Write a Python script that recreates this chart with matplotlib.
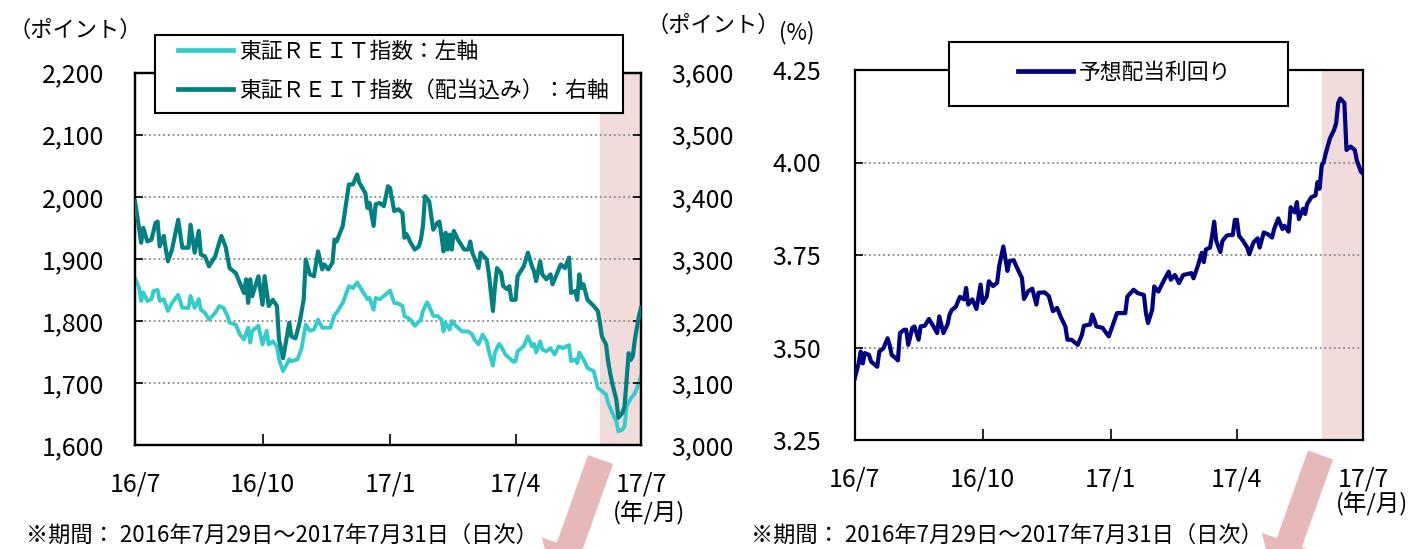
import matplotlib
matplotlib.use("Agg")
import matplotlib.pyplot as plt
from matplotlib.lines import Line2D
from matplotlib.patches import Rectangle, FancyArrow

plt.rcParams['font.family'] = ['Noto Sans CJK JP', 'DejaVu Sans']

# x = trading-day index (0 = 2016/7/29, 246 = 2017/7/31)
tick_pos = [0, 62, 124, 185, 246]
tick_labels = ["16/7", "16/10", "17/1", "17/4", "17/7"]
shade_start, shade_end = 226, 246

# 東証REIT指数 (left axis)
reit_day = [0, 2, 3, 4, 6, 8, 9, 11, 12, 14, 16, 18, 21, 23, 26, 27, 29, 31, 32, 34,
            36, 39, 41, 43, 45, 46, 49, 51, 53, 55, 56, 57, 60, 62, 64, 65, 67, 69, 70, 72,
            75, 76, 79, 81, 83, 85, 87, 89, 91, 95, 97, 98, 101, 104, 106, 108, 110, 113, 114, 116,
            117, 119, 121, 124, 126, 128, 130, 131, 134, 136, 139, 140, 142, 143, 145, 147, 149, 150, 151, 153,
            154, 156, 159, 162, 164, 165, 167, 169, 171, 172, 174, 175, 177, 178, 180, 181, 184, 185, 186, 189,
            191, 193, 194, 195, 197, 198, 200, 202, 204, 206, 208, 211, 212, 214, 215, 216, 218, 220, 223, 225,
            227, 229, 230, 232, 234, 235, 237, 238, 239, 241, 243, 245, 246]
reit_val = [1869, 1853, 1832, 1846, 1832, 1835, 1848, 1850, 1832, 1835, 1816, 1829, 1842, 1821, 1821, 1840, 1821, 1835, 1818, 1813,
            1802, 1813, 1824, 1821, 1808, 1797, 1794, 1778, 1770, 1789, 1765, 1784, 1792, 1762, 1784, 1762, 1767, 1759, 1738, 1719,
            1738, 1735, 1738, 1756, 1794, 1784, 1786, 1802, 1789, 1789, 1810, 1813, 1829, 1856, 1853, 1862, 1851, 1835, 1837, 1818,
            1837, 1835, 1840, 1849, 1829, 1828, 1824, 1808, 1802, 1792, 1802, 1816, 1830, 1824, 1808, 1808, 1802, 1783, 1797, 1786,
            1800, 1792, 1783, 1783, 1778, 1770, 1762, 1778, 1767, 1751, 1728, 1749, 1763, 1759, 1746, 1743, 1734, 1735, 1751, 1759,
            1775, 1759, 1763, 1749, 1767, 1754, 1751, 1756, 1746, 1759, 1756, 1761, 1735, 1738, 1732, 1749, 1738, 1724, 1719, 1692,
            1687, 1681, 1668, 1652, 1638, 1622, 1625, 1630, 1662, 1675, 1683, 1700, 1711]

# 東証REIT指数（配当込み） (right axis)
reit_div_day = [0, 3, 4, 6, 8, 10, 11, 12, 14, 15, 16, 18, 21, 23, 26, 27, 29, 31, 32, 34,
                36, 39, 41, 42, 44, 46, 49, 51, 53, 54, 55, 56, 57, 60, 62, 63, 65, 67, 69, 70,
                72, 75, 76, 78, 80, 82, 83, 85, 87, 89, 91, 92, 94, 96, 97, 98, 101, 104, 106, 108,
                109, 112, 113, 114, 116, 117, 119, 121, 123, 124, 126, 128, 130, 131, 132, 134, 136, 138, 139, 140,
                141, 143, 145, 147, 148, 149, 150, 151, 152, 153, 154, 155, 157, 160, 162, 163, 164, 167, 168, 171,
                172, 174, 175, 176, 178, 179, 181, 182, 183, 185, 186, 189, 191, 193, 194, 195, 197, 198, 200, 202,
                203, 205, 207, 209, 211, 212, 214, 215, 216, 217, 218, 220, 223, 225, 226, 227, 229, 230, 231, 232,
                234, 235, 237, 238, 239, 240, 241, 242, 243, 245, 246]
reit_div_val = [3393, 3326, 3350, 3328, 3331, 3358, 3360, 3320, 3337, 3315, 3296, 3315, 3363, 3318, 3318, 3355, 3310, 3345, 3307, 3304,
                3288, 3304, 3327, 3337, 3320, 3285, 3277, 3261, 3245, 3267, 3229, 3267, 3240, 3272, 3226, 3272, 3224, 3234, 3224, 3170,
                3140, 3197, 3175, 3172, 3197, 3234, 3299, 3275, 3272, 3312, 3283, 3291, 3283, 3294, 3331, 3328, 3353, 3420, 3420, 3436,
                3423, 3406, 3382, 3390, 3353, 3388, 3390, 3385, 3417, 3414, 3377, 3380, 3374, 3334, 3340, 3326, 3315, 3320, 3331, 3353,
                3401, 3393, 3347, 3358, 3360, 3337, 3312, 3342, 3315, 3339, 3315, 3345, 3331, 3315, 3315, 3328, 3310, 3285, 3310, 3299,
                3277, 3216, 3256, 3285, 3277, 3256, 3251, 3256, 3234, 3234, 3272, 3288, 3310, 3288, 3280, 3264, 3296, 3275, 3267, 3275,
                3259, 3275, 3291, 3285, 3302, 3245, 3248, 3234, 3275, 3253, 3259, 3234, 3224, 3216, 3197, 3175, 3162, 3135, 3116, 3100,
                3073, 3044, 3052, 3062, 3105, 3148, 3137, 3143, 3170, 3208, 3221]

# 予想配当利回り (%)
yield_day = [0, 2, 3, 4, 5, 7, 8, 11, 12, 14, 16, 17, 18, 20, 21, 22, 24, 25, 26, 28,
             29, 31, 32, 34, 36, 38, 40, 41, 43, 45, 46, 47, 49, 51, 53, 54, 55, 57, 59, 61,
             62, 64, 65, 67, 69, 70, 72, 74, 75, 77, 79, 81, 82, 84, 86, 88, 89, 92, 94, 96,
             98, 100, 102, 103, 105, 108, 110, 111, 114, 115, 116, 117, 120, 123, 127, 131, 132, 135, 137, 140,
             141, 142, 144, 145, 147, 149, 152, 153, 155, 157, 159, 163, 164, 166, 168, 169, 170, 172, 173, 174,
             175, 177, 178, 180, 181, 183, 184, 185, 186, 188, 190, 191, 193, 195, 196, 198, 200, 202, 203, 205,
             207, 208, 210, 211, 213, 214, 215, 217, 218, 219, 221, 223, 224, 225, 226, 227, 228, 230, 232, 233,
             234, 235, 237, 238, 240, 242, 243, 245, 246]
yield_val = [3.414, 3.457, 3.489, 3.457, 3.485, 3.480, 3.462, 3.448, 3.489, 3.498, 3.525, 3.507, 3.480, 3.471, 3.465, 3.539, 3.548, 3.548, 3.507, 3.553,
             3.557, 3.521, 3.557, 3.559, 3.577, 3.559, 3.539, 3.584, 3.539, 3.562, 3.589, 3.601, 3.610, 3.637, 3.630, 3.661, 3.616, 3.630, 3.604, 3.670,
             3.620, 3.638, 3.679, 3.666, 3.675, 3.720, 3.773, 3.707, 3.734, 3.736, 3.711, 3.688, 3.631, 3.652, 3.659, 3.616, 3.648, 3.649, 3.639, 3.598,
             3.607, 3.580, 3.557, 3.521, 3.521, 3.507, 3.534, 3.559, 3.562, 3.589, 3.575, 3.557, 3.553, 3.530, 3.593, 3.593, 3.638, 3.656, 3.647, 3.642,
             3.593, 3.566, 3.602, 3.665, 3.651, 3.674, 3.705, 3.683, 3.696, 3.674, 3.696, 3.701, 3.687, 3.719, 3.756, 3.731, 3.765, 3.770, 3.802, 3.840,
             3.788, 3.758, 3.788, 3.802, 3.804, 3.804, 3.845, 3.845, 3.802, 3.788, 3.770, 3.752, 3.784, 3.795, 3.770, 3.811, 3.806, 3.797, 3.820, 3.849,
             3.820, 3.829, 3.813, 3.879, 3.865, 3.893, 3.847, 3.875, 3.861, 3.888, 3.906, 3.911, 3.947, 3.929, 3.991, 4.002, 4.025, 4.065, 4.088, 4.106,
             4.161, 4.173, 4.161, 4.034, 4.043, 4.034, 4.006, 3.975, 3.970]

left_ticks = [1600, 1700, 1800, 1900, 2000, 2100, 2200]
right_ticks = [3000, 3100, 3200, 3300, 3400, 3500, 3600]
yield_ticks = [3.25, 3.50, 3.75, 4.00, 4.25]

c_reit = "#33CCCC"
c_div = "#008080"
c_yield = "#000080"
c_shade = "#F2DCDB"
c_arrow = "#E6B9B8"
W, H = 1412, 549
FS = 18


def fx(x):
    return x / W


def fy(y):
    return 1 - y / H


def style_axis(ax):
    for s in ax.spines.values():
        s.set_linewidth(1.6)
        s.set_color("black")
    ax.tick_params(axis="both", direction="in", length=6, width=1.2, labelsize=FS)
    ax.tick_params(axis="x", length=8, pad=19)


fig = plt.figure(figsize=(W / 100, H / 100), dpi=100)

# ---------------- left panel ----------------
ax = fig.add_axes([fx(135), fy(445), fx(641 - 135), fy(72.7) - fy(445)])
ax.axvspan(shade_start, shade_end, color=c_shade, lw=0, zorder=0)
ax.plot(reit_day, reit_val, color=c_reit, lw=2.8, zorder=3)
ax.set_xlim(0, 246)
ax.set_ylim(1600, 2200)
ax.set_yticks(left_ticks)
ax.set_yticklabels([f"{v:,}" for v in left_ticks])
ax.set_xticks(tick_pos)
ax.set_xticklabels(tick_labels)
for v in left_ticks[1:-1]:
    ax.axhline(v, color="#888888", lw=1.3, ls=(0, (1, 1.6)), zorder=1)
style_axis(ax)
ax.tick_params(axis="y", pad=22)

ax2 = ax.twinx()
ax2.plot(reit_div_day, reit_div_val, color=c_div, lw=3.0, zorder=3)
ax2.set_ylim(3000, 3600)
ax2.set_yticks(right_ticks)
ax2.set_yticklabels([f"{v:,}" for v in right_ticks])
style_axis(ax2)
ax2.tick_params(axis="y", pad=22)

# ---------------- right panel ----------------
bx = fig.add_axes([fx(854.5), fy(440), fx(1363 - 854.5), fy(70) - fy(440)])
bx.axvspan(shade_start, shade_end, color=c_shade, lw=0, zorder=0)
bx.plot(yield_day, yield_val, color=c_yield, lw=3.0, zorder=3)
bx.set_xlim(0, 246)
bx.set_ylim(3.25, 4.25)
bx.set_yticks(yield_ticks)
bx.set_yticklabels([f"{v:.2f}" for v in yield_ticks])
bx.set_xticks(tick_pos)
bx.set_xticklabels(tick_labels)
for v in yield_ticks[1:-1]:
    bx.axhline(v, color="#888888", lw=1.3, ls=(0, (1, 1.6)), zorder=1)
style_axis(bx)
bx.tick_params(axis="y", pad=24)

# ---------------- legends ----------------
fig.patches.append(Rectangle((fx(155), fy(113)), fx(623 - 155), fy(35) - fy(113),
                             transform=fig.transFigure, facecolor="white",
                             edgecolor="black", lw=1.5, zorder=2))
fig.legend([Line2D([], [], color=c_reit, lw=3.4), Line2D([], [], color=c_div, lw=3.4)],
           ["東証ＲＥＩＴ指数：左軸", "東証ＲＥＩＴ指数（配当込み）：右軸"],
           loc="center left", bbox_to_anchor=(fx(178), fy(71)), frameon=False,
           fontsize=15.7, handlelength=2.5, handletextpad=0.3, labelspacing=0.78,
           borderpad=0, borderaxespad=0)

fig.patches.append(Rectangle((fx(948.6), fy(106)), fx(1287.7 - 948.6), fy(42) - fy(106),
                             transform=fig.transFigure, facecolor="white",
                             edgecolor="black", lw=1.5, zorder=2))
fig.legend([Line2D([], [], color=c_yield, lw=3.4)], ["予想配当利回り"],
           loc="center left", bbox_to_anchor=(fx(1018), fy(73)), frameon=False,
           fontsize=15.7, handlelength=2.5, handletextpad=0.3,
           borderpad=0, borderaxespad=0)

# ---------------- texts ----------------
fig.text(fx(8), fy(30), "（ポイント）", fontsize=16, ha="left", va="center")
fig.text(fx(646), fy(25), "（ポイント）", fontsize=16, ha="left", va="center")
fig.text(fx(779), fy(33), "(%)", fontsize=16, ha="left", va="center")
fig.text(fx(649), fy(513), "(年/月)", fontsize=17, ha="center", va="center")
fig.text(fx(1372), fy(504), "(年/月)", fontsize=17, ha="center", va="center")
note = "※期間： 2016年7月29日～2017年7月31日（日次）"
fig.text(fx(26), fy(535), note, fontsize=16, ha="left", va="center")
fig.text(fx(751), fy(535), note, fontsize=16, ha="left", va="center")

# ---------------- arrows ----------------
for tail_x, tail_y in [(600.5, 459.5), (1320.5, 455)]:
    fig.patches.append(FancyArrow(tail_x / 100, (H - tail_y) / 100, -0.463, -1.30,
                                  width=0.266, head_width=0.58, head_length=0.45,
                                  length_includes_head=True, color=c_arrow, lw=0,
                                  transform=fig.dpi_scale_trans, zorder=3))

fig.savefig("out.png", dpi=100)
